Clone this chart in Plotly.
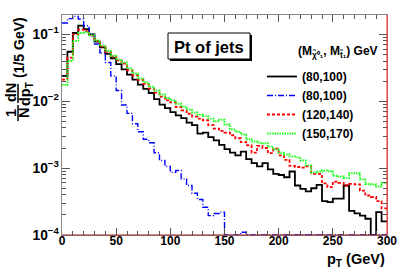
import plotly.graph_objects as go

# ---- data: 5 GeV bins from 0 to 300 GeV ----
bin_width = 5
n_bins = 60
bin_edges = [bin_width * i for i in range(n_bins + 1)]

series_labels = ["(80,100)", "(80,100)", "(120,140)", "(150,170)"]
legend_header = "(M<sub>χ̃⁰₁</sub>, M<sub>t̃₁</sub>) GeV"

jets_80_100 = [
    0.024, 0.055, 0.105, 0.135, 0.12, 0.1, 0.078, 0.064, 0.051, 0.044,
    0.036, 0.030, 0.025, 0.0211, 0.0177, 0.0153, 0.0133, 0.0108, 0.0089, 0.0079,
    0.0069, 0.00615, 0.0056, 0.0048, 0.0044, 0.00327, 0.0034, 0.0029, 0.0026, 0.00223,
    0.00192, 0.0017, 0.00155, 0.00177, 0.00136, 0.00119, 0.00106, 0.00119, 0.00096, 0.00082,
    0.00079, 0.00073, 0.00089, 0.00055, 0.00049, 0.00045, 0.0005, 0.00056, 0.00032, 0.00031,
    0.00035, 0.00035, 0.00055, 0.00023, 0.00021, 0.000195, 0.000175, 0.0, 0.00022, 0.00016,
]
jets_80_100_b = [
    0.148, 0.172, 0.186, 0.17, 0.135, 0.1, 0.072, 0.053, 0.038, 0.024,
    0.0145, 0.0088, 0.0066, 0.0046, 0.0035, 0.0027, 0.0024, 0.0017, 0.0013, 0.00106,
    0.00087, 0.00092, 0.00069, 0.00055, 0.00042, 0.00034, 0.00026, 0.000195, 0.00021, 0.00022,
    0.0, 0.0, 0.0, 0.00011, 0.0, 0.0, 0.0, 0.0, 0.0, 0.0,
    0.0, 0.0, 0.0, 0.0, 0.0, 0.0, 0.0, 0.0, 0.0, 0.0,
    0.0, 0.0, 0.0, 0.0, 0.0, 0.0, 0.0, 0.0, 0.0, 0.0,
]
jets_120_140 = [
    0.021, 0.045, 0.1, 0.118, 0.112, 0.096, 0.08, 0.066, 0.055, 0.047,
    0.041, 0.0366, 0.0291, 0.0245, 0.0209, 0.0182, 0.0156, 0.0135, 0.0117, 0.0103,
    0.0096, 0.0082, 0.0073, 0.0065, 0.0059, 0.0055, 0.0052, 0.0044, 0.0039, 0.0036,
    0.0034, 0.0031, 0.0028, 0.00245, 0.0022, 0.0017, 0.00215, 0.002, 0.00168, 0.00195,
    0.00155, 0.00133, 0.00108, 0.00104, 0.00102, 0.00106, 0.00082, 0.00082, 0.00059, 0.00052,
    0.00063, 0.0006, 0.00055, 0.00058, 0.00057, 0.00046, 0.00039, 0.00037, 0.00032, 0.00025,
]
jets_150_170 = [
    0.0175, 0.04, 0.08, 0.105, 0.108, 0.097, 0.081, 0.068, 0.057, 0.048,
    0.042, 0.038, 0.031, 0.026, 0.022, 0.0192, 0.0165, 0.0145, 0.0126, 0.0112,
    0.0103, 0.0092, 0.0083, 0.0075, 0.0068, 0.0063, 0.006, 0.0055, 0.005, 0.0053,
    0.0045, 0.0038, 0.0035, 0.0032, 0.0027, 0.0025, 0.0024, 0.00235, 0.0021, 0.0019,
    0.0017, 0.0016, 0.0015, 0.00145, 0.0013, 0.0011, 0.00086, 0.00089, 0.00092, 0.0009,
    0.00077, 0.00075, 0.00071, 0.00084, 0.00084, 0.00068, 0.00058, 0.00057, 0.00053, 0.0006,
]

x_tick_vals = [0, 50, 100, 150, 200, 250, 300]
y_log_range = [-4, -0.71]

series = [jets_80_100, jets_80_100_b, jets_120_140, jets_150_170]
styles = [
    dict(color="black", width=1.8, dash="solid"),
    dict(color="#0000ff", width=1.4, dash="6px,2px,1px,2px"),
    dict(color="#ff0000", width=1.8, dash="3px,2px"),
    dict(color="#22ff22", width=1.9, dash="1.5px,1px"),
]

floor = 10 ** y_log_range[0]
fig = go.Figure()
for vals, lab, st in zip(series, series_labels, styles):
    y = [max(v, floor) for v in vals] + [max(vals[-1], floor)]
    fig.add_trace(go.Scatter(
        x=bin_edges, y=y, mode="lines", line_shape="hv",
        line=st, name=lab, showlegend=True, hoverinfo="skip",
    ))

FONT = "Liberation Sans, Arial, Helvetica, sans-serif"
W, H = 407, 276
L, R, T, B = 62, 20, 15, 41
pw, ph = W - L - R, H - T - B

def px(x):
    return (x - L) / pw

def py(y):
    return (H - B - y) / ph

axis_common = dict(
    showgrid=False, zeroline=False, showline=True, linecolor="#888888", linewidth=1,
    mirror="allticks", ticks="inside", tickcolor="#555555", automargin=False,
)

fig.update_layout(
    width=W, height=H,
    margin=dict(l=L, r=R, t=T, b=B, autoexpand=False),
    paper_bgcolor="white", plot_bgcolor="white",
    xaxis=dict(range=[0, 300], tickvals=x_tick_vals, ticklen=7, ticklabelstandoff=-5,
               tickfont=dict(family=FONT, size=12, color="black", weight="bold"),
               minor=dict(ticks="inside", ticklen=4, dtick=10, tickcolor="#555555"),
               **axis_common),
    yaxis=dict(type="log", range=y_log_range, dtick=1, exponentformat="power",
               ticklen=8,
               tickfont=dict(family=FONT, size=11, color="black", weight="bold"),
               minor=dict(ticks="inside", ticklen=4, dtick="D1", tickcolor="#555555"),
               **axis_common),
    legend=dict(
        x=px(262), y=py(62), xanchor="left", yanchor="top",
        bgcolor="rgba(0,0,0,0)", borderwidth=0,
        font=dict(family=FONT, size=12, color="black", weight="bold"),
        tracegroupgap=0, itemwidth=30,
    ),
)

shapes = []
# title box shadow and box
shapes.append(dict(type="rect", xref="paper", yref="paper",
                   x0=px(170), x1=px(252), y0=py(61), y1=py(35),
                   fillcolor="black", line=dict(width=0), layer="above"))
shapes.append(dict(type="rect", xref="paper", yref="paper",
                   x0=px(168), x1=px(250), y0=py(59), y1=py(33),
                   fillcolor="white", line=dict(color="black", width=1), layer="above"))
# red frame edges (right and bottom)
shapes.append(dict(type="line", xref="paper", yref="paper", x0=1, x1=1, y0=0, y1=1,
                   line=dict(color="#ff2020", width=1), layer="above"))
shapes.append(dict(type="line", xref="paper", yref="paper", x0=0, x1=1, y0=0, y1=0,
                   line=dict(color="#a02020", width=1), layer="above"))
# y-title fraction bars
shapes.append(dict(type="line", xref="paper", yref="paper", x0=px(18), x1=px(18),
                   y0=py(121), y1=py(105), line=dict(color="black", width=1.5)))
shapes.append(dict(type="line", xref="paper", yref="paper", x0=px(18), x1=px(18),
                   y0=py(103), y1=py(84), line=dict(color="black", width=1.5)))
fig.update_layout(shapes=shapes)

def ann(text, x, y, size, angle=0, xanchor="center", yanchor="middle"):
    fig.add_annotation(text=text, xref="paper", yref="paper", x=px(x), y=py(y),
                       showarrow=False, textangle=angle, xanchor=xanchor, yanchor=yanchor,
                       font=dict(family=FONT, size=size, color="black", weight="bold"))

ann("Pt of jets", 209, 46.5, 16.5)
ann(legend_header, 296, 52, 12, xanchor="left")
ann("p<sub>T</sub> (GeV)", 387, 260, 14.5, xanchor="right")
ann("(1/5 GeV)", 19, 47, 14, angle=-90)
ann("dN", 11, 93, 14.5, angle=-90)
ann("dp<sub>T</sub>", 26, 94, 14.5, angle=-90)
ann("1", 11, 113, 14.5, angle=-90)
ann("N", 24, 113, 14.5, angle=-90)

fig.write_html("out.html", config={"displayModeBar": False},
               post_script="document.body.style.margin='0';document.body.style.padding='0';")
